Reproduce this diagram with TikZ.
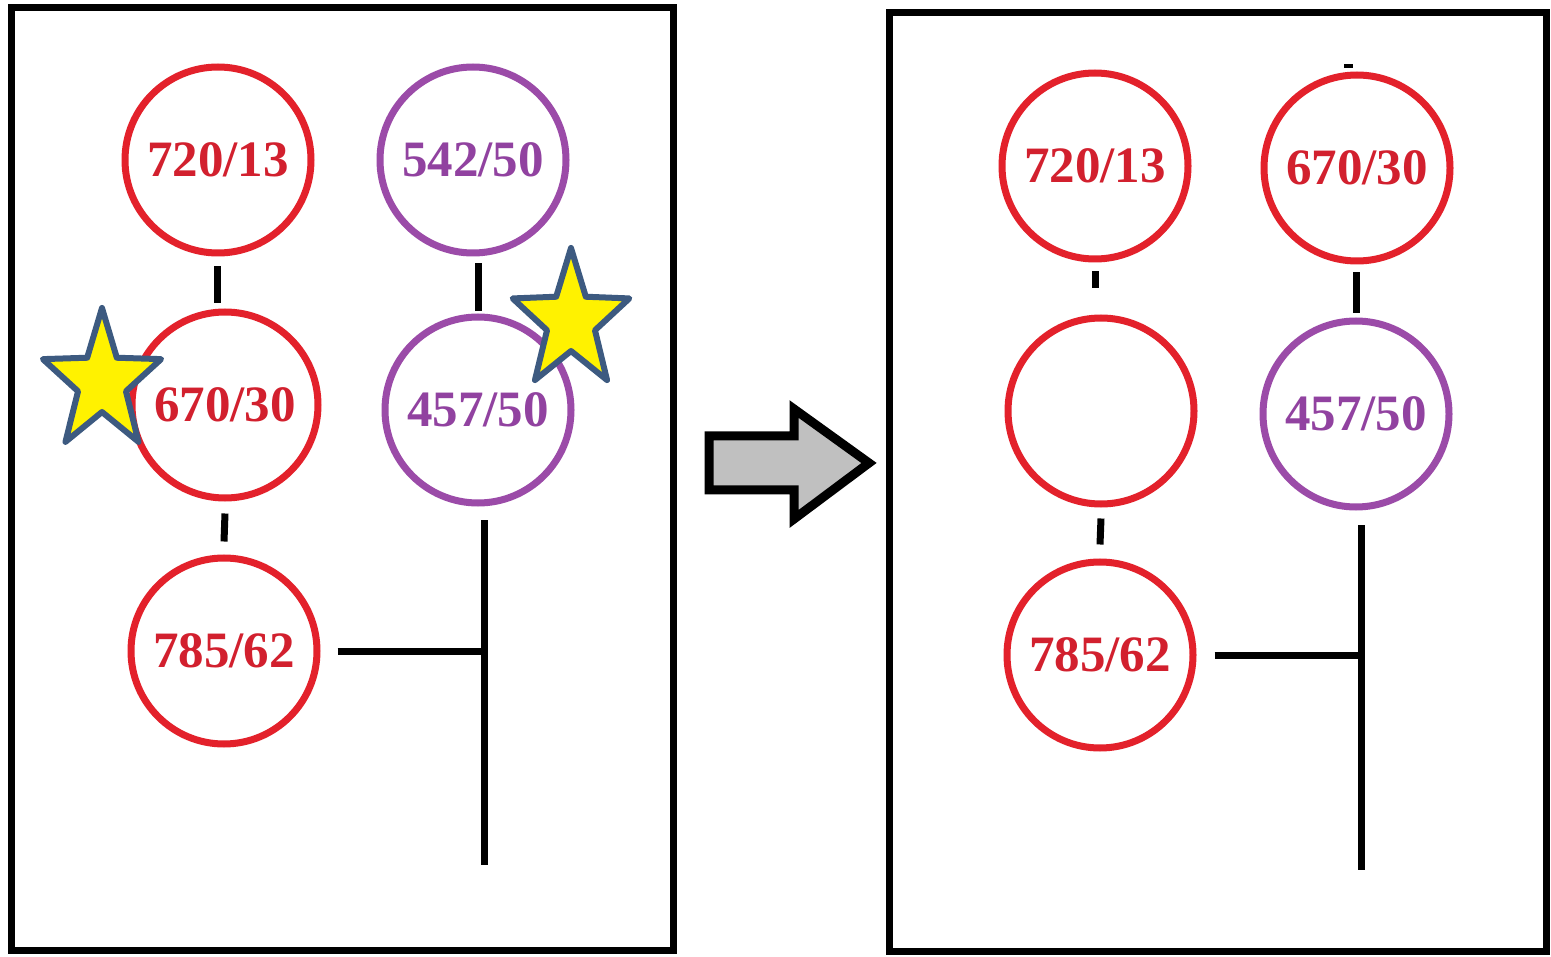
\documentclass[tikz,border=0pt]{standalone}
\usepackage{fontspec}
\setmainfont{Liberation Serif}
\usetikzlibrary{calc}
\definecolor{cred}{HTML}{E3212B}
\definecolor{tred}{HTML}{D2202E}
\definecolor{cpur}{HTML}{9B4BA8}
\definecolor{tpur}{HTML}{9142A0}
\definecolor{starline}{HTML}{3D5A80}
\definecolor{arrowgray}{HTML}{C0C0C0}
\begin{document}
\begin{tikzpicture}[x=1pt,y=-1pt,
  frame/.style={draw=black,line width=7pt},
  rc/.style={circle,draw=cred,line width=7pt,minimum size=186pt,inner sep=0pt,text=tred,font=\bfseries\fontsize{51}{51}\selectfont},
  pc/.style={circle,draw=cpur,line width=7pt,minimum size=186pt,inner sep=0pt,text=tpur,font=\bfseries\fontsize{51}{51}\selectfont},
  link/.style={draw=black,line width=7pt},
  starstyle/.style={draw=starline,fill=yellow,line width=6pt,line join=round},
  bigarrow/.style={draw=black,fill=arrowgray,line width=9pt}]
\useasboundingbox (0,0) rectangle (1551,957);
\fill[white] (0,0) rectangle (1551,957);
% frames
\draw[frame] (11,8) rectangle (673,950);
\draw[frame] (889,13) rectangle (1546,951);
% left panel
\node[rc] (L1) at (218,160) {720/13};
\node[rc] (L2) at (225,405) {670/30};
\node[rc] (L3) at (224,651) {785/62};
\node[pc] (L4) at (473,160) {542/50};
\node[pc] (L5) at (478,410) {457/50};
\draw[link] ([xshift=-1pt,yshift=-10pt]L1.south) -- ([xshift=-8pt,yshift=5pt]L2.north);
\draw[link] ([yshift=-12pt]L2.south) -- ([yshift=13pt]L3.north);
\draw[link] ([xshift=5pt,yshift=-7pt]L4.south) -- ([yshift=2pt]L5.north);
\coordinate (LT) at (484,520);
\coordinate (LB) at (484,865);
\coordinate (LJ) at (484,651);
\draw[link] (LT) -- (LB);
\draw[link] ([xshift=17pt]L3.east) -- (LJ);
% stars
\draw[starstyle,shift={(102,382)},xscale=0.84] (270:74) \foreach \k in {1,...,9}{ -- ({270+36*\k}:{ifthenelse(mod(\k,2)==0,74,30)}) } -- cycle;
\draw[starstyle,shift={(571,321)},xscale=0.84] (270:73) \foreach \k in {1,...,9}{ -- ({270+36*\k}:{ifthenelse(mod(\k,2)==0,73,30)}) } -- cycle;
% arrow
\draw[bigarrow] (709,436) -- (794,436) -- (794,409) -- (869,463) -- (794,519) -- (794,490) -- (709,490) -- cycle;
% right panel
\node[rc] (R1) at (1095,166) {720/13};
\node[rc] (R2) at (1101,411) {};
\node[rc] (R3) at (1100,655) {785/62};
\node[rc] (R4) at (1357,168) {670/30};
\node[pc] (R5) at (1356,414) {457/50};
\draw[link] ([yshift=-9pt]R1.south) -- ([xshift=-6pt,yshift=26pt]R2.north);
\draw[link] ([yshift=-11pt]R2.south) -- ([yshift=14pt]R3.north);
\draw[link] ([xshift=-1pt,yshift=-8pt]R4.south) -- ([yshift=4pt]R5.north);
\coordinate (RT) at (1361,525);
\coordinate (RB) at (1361,870);
\coordinate (RJ) at (1361,655);
\draw[link] (RT) -- (RB);
\draw[link] ([xshift=18pt]R3.east) -- (RJ);
\fill[black] (1344,64) rectangle (1353,68);
\end{tikzpicture}
\end{document}
